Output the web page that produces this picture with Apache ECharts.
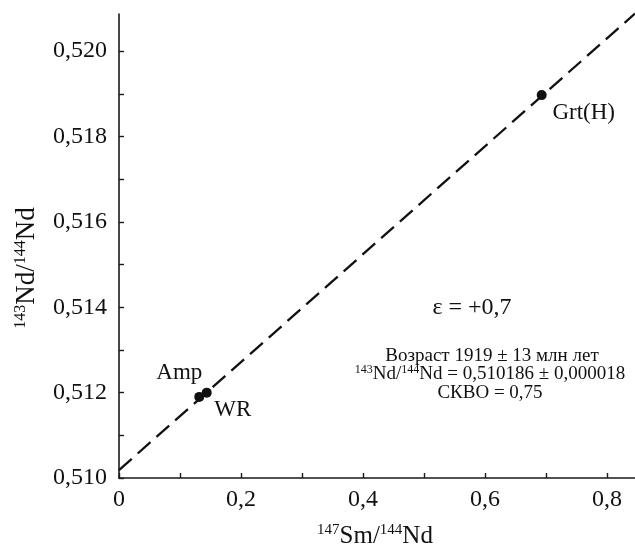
<!DOCTYPE html>
<html>
<head>
<meta charset="utf-8">
<script src="https://cdn.jsdelivr.net/npm/echarts@6/dist/echarts.min.js"></script>
<style>
html,body{margin:0;padding:0;background:#fff;}
#chart{width:635px;height:547px;}
</style>
</head>
<body>
<div id="chart"></div>
<script>
// Samples
const sampleNames = ['Amp', 'WR', 'Grt(H)'];
const sampleSm = [0.1316, 0.1438, 0.693];
const sampleNd = [0.51190, 0.51200, 0.51897];
// Isochron endpoints
const isoX = [0, 0.846];
const isoY = [0.510186, 0.52088];
// Axes
const xMin = 0, xMax = 0.846;
const yMin = 0.510, yMax = 0.52087;
const xTicks = [0, 0.1, 0.2, 0.3, 0.4, 0.5, 0.6, 0.7, 0.8];
const xLabels = [0, 0.2, 0.4, 0.6, 0.8];
const yTicks = [0.510, 0.511, 0.512, 0.513, 0.514, 0.515, 0.516, 0.517, 0.518, 0.519, 0.520];
const yLabels = [0.510, 0.512, 0.514, 0.516, 0.518, 0.520];

const FONT = '"Liberation Serif", "DejaVu Serif", serif';
const INK = '#111';
const chart = echarts.init(document.getElementById('chart'));
const labelOffsets = [[-20, -24], [26, 17], [42, 18]];

function supRich(base, sup, lh) {
  return {
    s: {fontSize: sup, fontFamily: FONT, fill: INK, color: INK, verticalAlign: 'top', lineHeight: lh},
    b: {fontSize: base, fontFamily: FONT, fill: INK, color: INK, lineHeight: lh}
  };
}

chart.setOption({
  animation: false,
  backgroundColor: '#fff',
  grid: {left: 119, right: 0, top: 14, bottom: 69, containLabel: false},
  xAxis: {
    type: 'value', min: xMin, max: xMax,
    axisLine: {show: true, lineStyle: {color: '#1a1a1a', width: 1.6}},
    axisTick: {show: true, inside: true, length: 5, customValues: xTicks, lineStyle: {color: '#1a1a1a', width: 1.4}},
    axisLabel: {customValues: xLabels, margin: 10, color: INK, fontFamily: FONT, fontSize: 24,
      formatter: v => (v === 0 ? '0' : String(+v.toFixed(1)).replace('.', ','))},
    splitLine: {show: false}
  },
  yAxis: {
    type: 'value', min: yMin, max: yMax,
    axisLine: {show: true, lineStyle: {color: '#1a1a1a', width: 1.6}},
    axisTick: {show: true, inside: true, length: 5, customValues: yTicks, lineStyle: {color: '#1a1a1a', width: 1.4}},
    axisLabel: {customValues: yLabels, margin: 12, color: INK, fontFamily: FONT, fontSize: 24,
      formatter: v => v.toFixed(3).replace('.', ',')},
    splitLine: {show: false}
  },
  series: [
    {
      type: 'line', data: isoX.map((x, i) => [x, isoY[i]]),
      symbol: 'none', silent: true, clip: false,
      lineStyle: {color: INK, width: 2.3, type: [17, 8]}
    },
    {
      type: 'scatter', symbol: 'circle', symbolSize: 10,
      itemStyle: {color: INK, opacity: 1},
      data: sampleSm.map((x, i) => ({
        value: [x, sampleNd[i]], name: sampleNames[i],
        label: {show: true, position: 'inside', offset: labelOffsets[i], formatter: sampleNames[i],
          color: INK, fontFamily: FONT, fontSize: 23}
      }))
    }
  ],
  graphic: [
    {type: 'text', x: 375, y: 536, style: {
      text: '{s|147}{b|Sm/}{s|144}{b|Nd}', align: 'center', verticalAlign: 'middle', rich: supRich(25, 15, 26)}},
    {type: 'text', x: 27, y: 268, rotation: Math.PI / 2, style: {
      text: '{s|143}{b|Nd/}{s|144}{b|Nd}', align: 'center', verticalAlign: 'middle', rich: supRich(27, 16, 29)}},
    {type: 'text', x: 472, y: 308, style: {text: 'ε = +0,7', fontFamily: FONT, fontSize: 24, fill: INK, align: 'center', verticalAlign: 'middle'}},
    {type: 'text', x: 492, y: 356, style: {text: 'Возраст 1919 ± 13 млн лет', fontFamily: FONT, fontSize: 19, fill: INK, align: 'center', verticalAlign: 'middle'}},
    {type: 'text', x: 490, y: 374, style: {
      text: '{s|143}{b|Nd/}{s|144}{b|Nd = 0,510186 ± 0,000018}', align: 'center', verticalAlign: 'middle', rich: supRich(19, 12, 20)}},
    {type: 'text', x: 490, y: 393, style: {text: 'СКВО = 0,75', fontFamily: FONT, fontSize: 19, fill: INK, align: 'center', verticalAlign: 'middle'}}
  ]
});
</script>
</body>
</html>
